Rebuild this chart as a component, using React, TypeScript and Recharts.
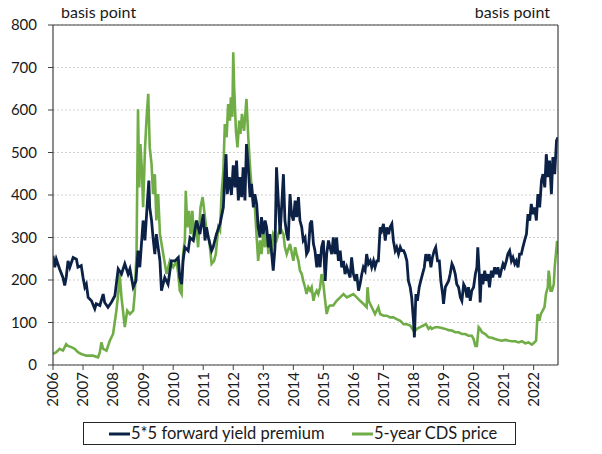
import React from 'react';
import { LineChart, Line, XAxis, YAxis, CartesianGrid, ReferenceLine } from 'recharts';

const seriesNames = ['5*5 forward yield premium', '5-year CDS price'];
const unitLabel = 'basis point';
const yearTicks = [2006, 2007, 2008, 2009, 2010, 2011, 2012, 2013, 2014, 2015, 2016, 2017, 2018, 2019, 2020, 2021, 2022];
const valueTicks = [0, 100, 200, 300, 400, 500, 600, 700, 800];

// [decimal year, basis points]
const premiumSeries: [number, number][] = [
  [2006.0, 257], [2006.06, 230], [2006.11, 249], [2006.22, 226], [2006.33, 206], [2006.39, 187], [2006.44, 206],
  [2006.5, 245], [2006.56, 230], [2006.67, 253], [2006.78, 249], [2006.83, 230], [2006.94, 234], [2007.0, 206],
  [2007.06, 183], [2007.11, 190], [2007.17, 159], [2007.28, 151], [2007.39, 132], [2007.44, 144], [2007.56, 140],
  [2007.67, 167], [2007.72, 147], [2007.83, 136], [2007.94, 147], [2008.06, 163], [2008.17, 226], [2008.28, 214],
  [2008.39, 238], [2008.5, 214], [2008.56, 226], [2008.67, 183], [2008.76, 198], [2008.83, 269], [2008.89, 230],
  [2009.0, 340], [2009.06, 293], [2009.13, 371], [2009.19, 434], [2009.22, 371], [2009.28, 340], [2009.33, 300],
  [2009.39, 261], [2009.44, 308], [2009.56, 245], [2009.61, 175], [2009.72, 206], [2009.83, 190], [2009.94, 245],
  [2010.06, 245], [2010.17, 253], [2010.22, 206], [2010.28, 190], [2010.33, 245], [2010.39, 277], [2010.5, 269],
  [2010.56, 300], [2010.67, 293], [2010.72, 316], [2010.78, 340], [2010.89, 308], [2011.0, 355], [2011.06, 293],
  [2011.11, 324], [2011.17, 300], [2011.28, 269], [2011.33, 277], [2011.44, 308], [2011.56, 332], [2011.67, 371],
  [2011.72, 449], [2011.76, 496], [2011.8, 402], [2011.87, 442], [2011.94, 400], [2012.0, 470], [2012.06, 418],
  [2012.11, 481], [2012.17, 387], [2012.22, 442], [2012.28, 395], [2012.33, 465], [2012.39, 387], [2012.44, 520],
  [2012.5, 465], [2012.56, 395], [2012.61, 426], [2012.67, 371], [2012.72, 402], [2012.78, 379], [2012.83, 324],
  [2012.89, 300], [2012.94, 348], [2013.0, 308], [2013.06, 340], [2013.11, 324], [2013.17, 277], [2013.22, 308],
  [2013.28, 261], [2013.33, 222], [2013.39, 277], [2013.44, 465], [2013.5, 387], [2013.56, 308], [2013.61, 371],
  [2013.67, 449], [2013.72, 340], [2013.78, 308], [2013.83, 293], [2013.89, 402], [2013.94, 355], [2014.0, 340],
  [2014.06, 387], [2014.11, 348], [2014.17, 395], [2014.22, 340], [2014.28, 324], [2014.33, 293], [2014.39, 300],
  [2014.44, 261], [2014.5, 269], [2014.56, 332], [2014.61, 340], [2014.67, 285], [2014.72, 269], [2014.78, 230],
  [2014.83, 261], [2014.89, 230], [2014.94, 277], [2015.0, 293], [2015.06, 198], [2015.11, 261], [2015.17, 293],
  [2015.22, 277], [2015.28, 261], [2015.33, 300], [2015.39, 261], [2015.44, 300], [2015.5, 245], [2015.56, 269],
  [2015.61, 230], [2015.67, 245], [2015.72, 214], [2015.78, 230], [2015.89, 206], [2015.94, 253], [2016.0, 214],
  [2016.06, 198], [2016.11, 214], [2016.17, 175], [2016.22, 190], [2016.28, 214], [2016.33, 230], [2016.39, 222],
  [2016.44, 261], [2016.5, 238], [2016.56, 245], [2016.61, 230], [2016.67, 245], [2016.72, 230], [2016.78, 245],
  [2016.83, 245], [2016.89, 324], [2016.94, 316], [2017.0, 332], [2017.06, 293], [2017.11, 324], [2017.17, 308],
  [2017.22, 324], [2017.28, 332], [2017.33, 293], [2017.39, 269], [2017.44, 277], [2017.5, 261], [2017.56, 277],
  [2017.61, 269], [2017.67, 269], [2017.72, 261], [2017.78, 245], [2017.83, 198], [2017.89, 183], [2017.94, 159],
  [2018.0, 104], [2018.03, 65], [2018.08, 167], [2018.13, 151], [2018.19, 183], [2018.24, 198], [2018.3, 214],
  [2018.36, 230], [2018.41, 261], [2018.47, 245], [2018.52, 261], [2018.58, 230], [2018.63, 253], [2018.69, 269],
  [2018.74, 277], [2018.8, 245], [2018.86, 245], [2018.91, 198], [2018.97, 167], [2019.0, 144], [2019.06, 183],
  [2019.11, 190], [2019.17, 198], [2019.22, 214], [2019.28, 238], [2019.33, 230], [2019.39, 214], [2019.44, 190],
  [2019.5, 183], [2019.56, 159], [2019.61, 151], [2019.67, 190], [2019.72, 183], [2019.78, 159], [2019.83, 183],
  [2019.89, 151], [2019.94, 175], [2020.0, 183], [2020.06, 214], [2020.11, 230], [2020.14, 277], [2020.19, 214],
  [2020.22, 147], [2020.26, 214], [2020.31, 190], [2020.37, 222], [2020.42, 198], [2020.48, 214], [2020.53, 183],
  [2020.59, 222], [2020.64, 206], [2020.7, 230], [2020.76, 214], [2020.81, 230], [2020.87, 206], [2020.92, 222],
  [2020.98, 238], [2021.03, 230], [2021.09, 245], [2021.14, 261], [2021.2, 269], [2021.26, 245], [2021.31, 253],
  [2021.37, 238], [2021.42, 245], [2021.48, 230], [2021.53, 261], [2021.59, 261], [2021.64, 277], [2021.7, 293],
  [2021.76, 308], [2021.81, 355], [2021.87, 340], [2021.92, 379], [2021.98, 355], [2022.03, 371], [2022.09, 340],
  [2022.14, 402], [2022.2, 371], [2022.26, 434], [2022.31, 449], [2022.37, 418], [2022.42, 496], [2022.48, 442],
  [2022.53, 481], [2022.59, 402], [2022.64, 489], [2022.7, 449], [2022.76, 528], [2022.81, 536],
];

const cdsSeries: [number, number][] = [
  [2006.0, 26], [2006.11, 30], [2006.22, 38], [2006.33, 34], [2006.44, 49], [2006.5, 45], [2006.61, 42],
  [2006.72, 38], [2006.83, 30], [2006.94, 26], [2007.11, 22], [2007.33, 22], [2007.5, 18], [2007.56, 30],
  [2007.61, 53], [2007.67, 38], [2007.78, 34], [2007.89, 57], [2008.0, 73], [2008.11, 128], [2008.17, 167],
  [2008.22, 214], [2008.28, 159], [2008.39, 89], [2008.47, 128], [2008.56, 120], [2008.67, 128], [2008.72, 167],
  [2008.78, 261], [2008.83, 602], [2008.87, 418], [2008.91, 520], [2008.96, 457], [2009.0, 371], [2009.06, 504],
  [2009.11, 575], [2009.17, 638], [2009.22, 512], [2009.28, 473], [2009.33, 402], [2009.39, 449], [2009.44, 340],
  [2009.5, 402], [2009.56, 308], [2009.67, 261], [2009.78, 214], [2009.89, 245], [2010.0, 230], [2010.11, 245],
  [2010.17, 214], [2010.22, 175], [2010.28, 167], [2010.33, 261], [2010.39, 293], [2010.42, 410], [2010.47, 324],
  [2010.53, 363], [2010.58, 308], [2010.64, 363], [2010.69, 293], [2010.76, 340], [2010.83, 277], [2010.91, 371],
  [2010.98, 395], [2011.02, 371], [2011.11, 316], [2011.2, 293], [2011.28, 238], [2011.36, 245], [2011.42, 261],
  [2011.5, 324], [2011.56, 316], [2011.61, 402], [2011.67, 457], [2011.72, 567], [2011.78, 536], [2011.83, 614],
  [2011.89, 575], [2011.92, 630], [2011.97, 584], [2012.0, 736], [2012.03, 653], [2012.09, 551], [2012.14, 512],
  [2012.2, 575], [2012.24, 544], [2012.29, 591], [2012.36, 551], [2012.44, 626], [2012.5, 536], [2012.56, 465],
  [2012.61, 418], [2012.67, 379], [2012.72, 371], [2012.78, 300], [2012.83, 245], [2012.89, 293], [2012.94, 261],
  [2013.0, 308], [2013.06, 277], [2013.11, 324], [2013.17, 261], [2013.22, 293], [2013.28, 269], [2013.33, 308],
  [2013.44, 293], [2013.56, 324], [2013.67, 308], [2013.72, 277], [2013.78, 261], [2013.89, 285], [2014.0, 245],
  [2014.06, 277], [2014.11, 261], [2014.17, 245], [2014.22, 222], [2014.28, 214], [2014.33, 198], [2014.39, 183],
  [2014.44, 167], [2014.5, 183], [2014.56, 175], [2014.61, 183], [2014.67, 151], [2014.72, 167], [2014.78, 175],
  [2014.83, 167], [2014.89, 183], [2014.94, 214], [2015.0, 190], [2015.06, 151], [2015.11, 120], [2015.17, 136],
  [2015.22, 140], [2015.33, 140], [2015.44, 151], [2015.56, 159], [2015.67, 167], [2015.78, 159], [2015.89, 163],
  [2016.0, 167], [2016.11, 159], [2016.22, 151], [2016.33, 144], [2016.44, 136], [2016.47, 183], [2016.51, 151],
  [2016.61, 136], [2016.72, 120], [2016.83, 136], [2016.89, 120], [2017.0, 116], [2017.11, 116], [2017.22, 112],
  [2017.33, 112], [2017.44, 108], [2017.56, 104], [2017.67, 96], [2017.78, 96], [2017.89, 93], [2018.0, 81],
  [2018.06, 81], [2018.11, 85], [2018.22, 89], [2018.33, 93], [2018.41, 96], [2018.44, 93], [2018.5, 85],
  [2018.56, 89], [2018.61, 85], [2018.72, 89], [2018.83, 89], [2018.94, 87], [2019.06, 85], [2019.17, 82],
  [2019.28, 81], [2019.39, 77], [2019.5, 77], [2019.61, 73], [2019.72, 73], [2019.83, 69], [2019.94, 69],
  [2020.0, 61], [2020.06, 45], [2020.11, 45], [2020.17, 89], [2020.22, 85], [2020.28, 77], [2020.39, 73],
  [2020.5, 65], [2020.61, 64], [2020.72, 61], [2020.83, 59], [2020.94, 57], [2021.06, 59], [2021.17, 57],
  [2021.28, 56], [2021.39, 56], [2021.5, 53], [2021.61, 56], [2021.72, 51], [2021.83, 53], [2021.94, 48],
  [2022.02, 53], [2022.08, 57], [2022.13, 120], [2022.19, 104], [2022.24, 120], [2022.3, 128], [2022.36, 136],
  [2022.41, 167], [2022.47, 183], [2022.5, 222], [2022.53, 206], [2022.56, 175], [2022.61, 175], [2022.67, 190],
  [2022.7, 230], [2022.74, 261], [2022.78, 292], [2022.81, 261],
];

const premiumData = premiumSeries.map(([t, v]) => ({ t, v }));
const cdsData = cdsSeries.map(([t, v]) => ({ t, v }));

const NAVY = '#0c2146';
const GREEN = '#70ad47';
const AXIS = '#404040';
const FONT = 'Lato, "Open Sans", sans-serif';
const TEXT = '#1a1a1a';

const YearTick = (props: any) => {
  const { x, y, payload } = props;
  return (
    <g transform={`translate(${x},${y})`}>
      <text transform="rotate(-90)" x={0} y={0} dy="0.36em" textAnchor="end" fill={TEXT} fontSize={15} fontFamily={FONT}>
        {payload.value}
      </text>
    </g>
  );
};

const LeftUnit = (props: any) => {
  const vb = props.viewBox || {};
  return (
    <text x={vb.x + vb.width + 8} y={vb.y - 7} fill={TEXT} fontSize={16} fontFamily={FONT} textAnchor="start">
      {unitLabel}
    </text>
  );
};

const RightUnit = (props: any) => {
  const vb = props.viewBox || {};
  return (
    <text x={vb.x - 8} y={vb.y - 7} fill={TEXT} fontSize={16} fontFamily={FONT} textAnchor="end">
      {unitLabel}
    </text>
  );
};

// Legend drawn in SVG, anchored below the x-axis band
const LegendBox = (props: any) => {
  const vb = props.viewBox || {};
  const bx = vb.x + 30;
  const by = vb.y + vb.height + 12;
  const bw = 432;
  const bh = 22;
  const cy = by + bh / 2;
  const items = [
    { color: NAVY, label: seriesNames[0], x: bx + 26 },
    { color: GREEN, label: seriesNames[1], x: bx + 269 },
  ];
  return (
    <g>
      <rect x={bx + 0.5} y={by + 0.5} width={bw} height={bh} fill="#fff" stroke="#262626" strokeWidth={1} />
      {items.map((it) => (
        <g key={it.label}>
          <line x1={it.x} x2={it.x + 21} y1={cy + 1} y2={cy + 1} stroke={it.color} strokeWidth={3} />
          <text x={it.x + 22} y={cy + 0.5} dy="0.36em" fill={TEXT} fontSize={16.5} fontFamily={FONT}>
            {it.label}
          </text>
        </g>
      ))}
    </g>
  );
};

export default function App() {
  return (
    <div style={{ position: 'relative', marginTop: -8, marginBottom: -8, width: 586, height: 454, fontFamily: FONT }}>
      <LineChart width={586} height={454} margin={{ top: 25, right: 0, left: 0, bottom: 44 }}>
        <CartesianGrid yAxisId="left" horizontal vertical={false} stroke="#cfcfcf" strokeDasharray="2 2" />
        <XAxis
          dataKey="t"
          type="number"
          domain={[2006, 2022.81]}
          ticks={yearTicks}
          allowDataOverflow
          height={45}
          tick={<YearTick />}
          tickSize={5}
          tickMargin={2}
          interval={0}
          stroke={AXIS}
          axisLine={{ stroke: AXIS, strokeWidth: 1.2 }}
          tickLine={{ stroke: AXIS }}
          label={<LegendBox />}
        />
        <YAxis
          yAxisId="left"
          domain={[0, 800]}
          ticks={valueTicks}
          width={45}
          tickSize={5}
          tickMargin={11}
          interval={0}
          axisLine={{ stroke: AXIS, strokeWidth: 1.2 }}
          tickLine={{ stroke: AXIS }}
          tick={{ fill: TEXT, fontSize: 15, fontFamily: FONT }}
          label={<LeftUnit />}
        />
        <YAxis
          yAxisId="right"
          orientation="right"
          domain={[0, 800]}
          ticks={valueTicks}
          width={36}
          tickSize={5}
          tickMargin={11}
          interval={0}
          axisLine={{ stroke: AXIS, strokeWidth: 1.2 }}
          tickLine={{ stroke: AXIS }}
          tick={{ fill: TEXT, fontSize: 15, fontFamily: FONT, textAnchor: 'start' }}
          label={<RightUnit />}
        />
        <ReferenceLine yAxisId="left" y={800} stroke={AXIS} strokeWidth={1.2} />
        <Line
          yAxisId="left"
          data={cdsData}
          dataKey="v"
          type="linear"
          stroke={GREEN}
          strokeWidth={2.6}
          dot={false}
          activeDot={false}
          isAnimationActive={false}
          name={seriesNames[1]}
        />
        <Line
          yAxisId="left"
          data={premiumData}
          dataKey="v"
          type="linear"
          stroke={NAVY}
          strokeWidth={2.8}
          dot={false}
          activeDot={false}
          isAnimationActive={false}
          name={seriesNames[0]}
        />
      </LineChart>
    </div>
  );
}
